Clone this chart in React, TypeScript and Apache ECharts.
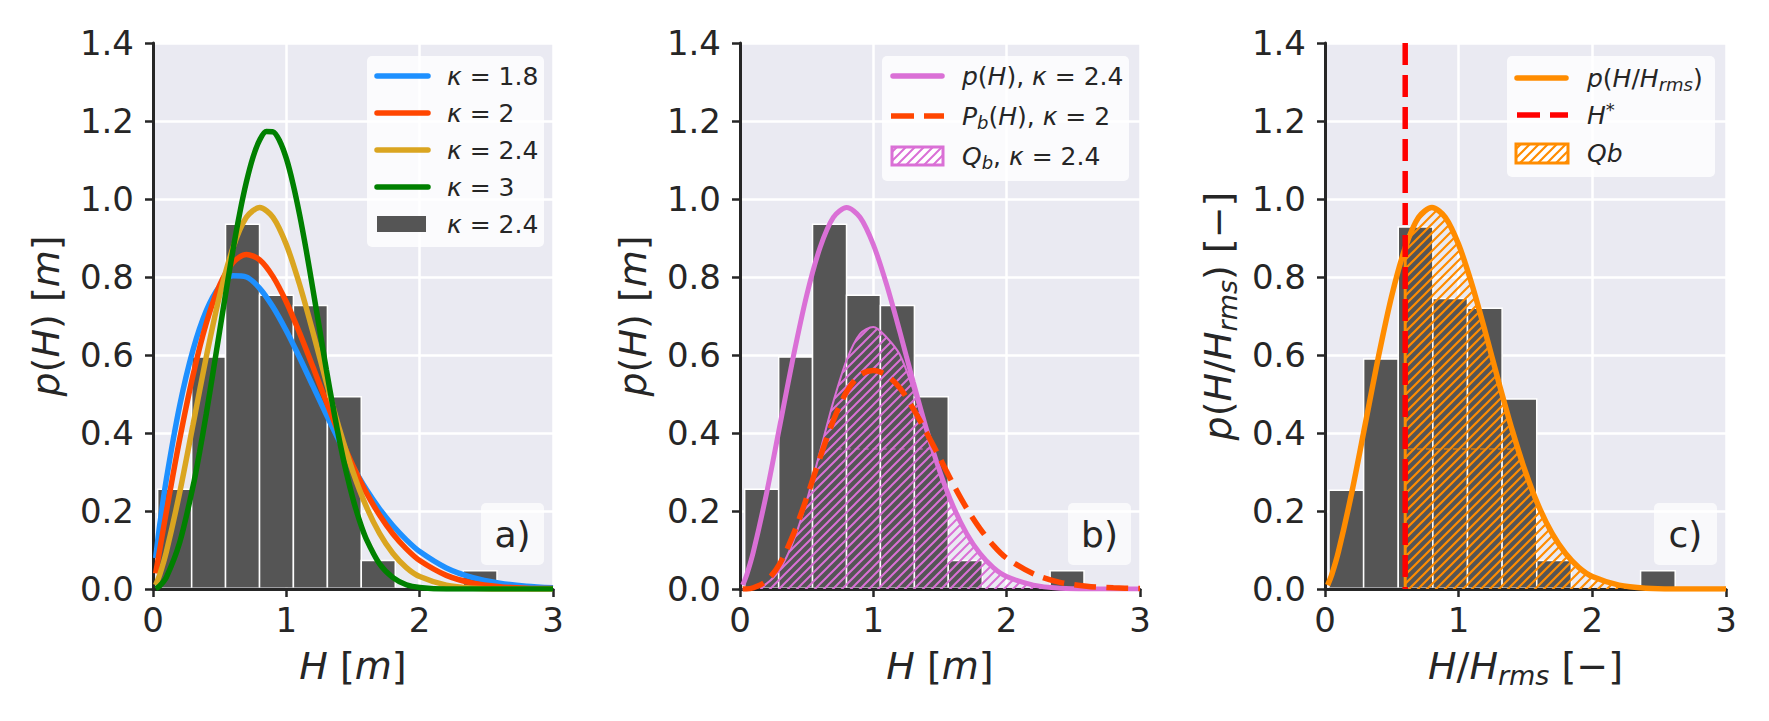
import React, { useEffect, useRef } from "react";
import * as echarts from "echarts";

const FONT = "DejaVu Sans";
const INK = "#262626";

// ---- data ----
const xs = [0.02, 0.05, 0.1, 0.2, 0.3, 0.4, 0.5, 0.6, 0.7, 0.8, 0.9, 1.0, 1.1, 1.2, 1.3, 1.4, 1.5, 1.6, 1.7, 1.8, 1.9, 2.0, 2.2, 2.4, 2.6, 2.8, 3.0];
const pK18 = [0.079, 0.163, 0.281, 0.470, 0.613, 0.714, 0.776, 0.803, 0.800, 0.771, 0.723, 0.662, 0.593, 0.520, 0.447, 0.377, 0.313, 0.255, 0.205, 0.162, 0.126, 0.096, 0.054, 0.029, 0.015, 0.007, 0.003];
const pK20 = [0.040, 0.100, 0.198, 0.384, 0.548, 0.682, 0.779, 0.837, 0.858, 0.844, 0.801, 0.736, 0.656, 0.569, 0.480, 0.394, 0.316, 0.247, 0.189, 0.141, 0.103, 0.073, 0.035, 0.015, 0.006, 0.002, 0.001];
const pK24 = [0.010, 0.036, 0.095, 0.247, 0.421, 0.596, 0.753, 0.875, 0.953, 0.978, 0.953, 0.883, 0.780, 0.658, 0.530, 0.408, 0.300, 0.211, 0.142, 0.091, 0.055, 0.032, 0.010, 0.002, 0.000, 0.000, 0.000];
const xsK30 = [0.02, 0.05, 0.1, 0.2, 0.3, 0.35, 0.4, 0.45, 0.5, 0.55, 0.6, 0.65, 0.7, 0.75, 0.8, 0.85, 0.9, 0.95, 1.0, 1.05, 1.1, 1.15, 1.2, 1.25, 1.3, 1.35, 1.4, 1.45, 1.5, 1.55, 1.6, 1.7, 1.8, 1.9, 2.0, 2.2, 2.4, 2.6, 2.8, 3.0];
const pK30 = [0.001, 0.008, 0.030, 0.119, 0.263, 0.352, 0.450, 0.555, 0.662, 0.768, 0.870, 0.963, 1.043, 1.107, 1.151, 1.173, 1.172, 1.149, 1.104, 1.039, 0.959, 0.867, 0.767, 0.665, 0.563, 0.467, 0.378, 0.299, 0.231, 0.174, 0.128, 0.064, 0.029, 0.011, 0.004, 0.000, 0.000, 0.000, 0.000, 0.000];
const pbK20 = [0.000, 0.000, 0.003, 0.021, 0.066, 0.140, 0.234, 0.337, 0.432, 0.506, 0.549, 0.560, 0.548, 0.515, 0.462, 0.400, 0.335, 0.268, 0.207, 0.155, 0.112, 0.079, 0.039, 0.017, 0.007, 0.003, 0.001];
const qbK24 = [0.000, 0.000, 0.001, 0.014, 0.051, 0.122, 0.226, 0.352, 0.480, 0.587, 0.654, 0.672, 0.645, 0.600, 0.510, 0.402, 0.298, 0.211, 0.142, 0.091, 0.055, 0.032, 0.010, 0.002, 0.000, 0.000, 0.000];
const pRms = [0.010, 0.036, 0.095, 0.247, 0.421, 0.596, 0.753, 0.875, 0.953, 0.978, 0.953, 0.883, 0.780, 0.658, 0.530, 0.408, 0.300, 0.211, 0.142, 0.091, 0.055, 0.032, 0.010, 0.002, 0.000, 0.000, 0.000];
const xsQbC = [0.6, 0.7, 0.8, 0.9, 1.0, 1.1, 1.2, 1.3, 1.4, 1.5, 1.6, 1.7, 1.8, 1.9, 2.0, 2.2, 2.4, 2.6, 2.8, 3.0];
const qbC = [0.875, 0.953, 0.978, 0.953, 0.883, 0.780, 0.658, 0.530, 0.408, 0.300, 0.211, 0.142, 0.091, 0.055, 0.032, 0.010, 0.002, 0.000, 0.000, 0.000];
const hStar = 0.6;
// faint seam of the hatched fill visible in panels b and c
const seamX_B = [0.725, 1.43];
const seamX_C = [0.62, 1.42];
const seamY = [0.359, 0.359];

const binEdgesAB = [0.035, 0.290, 0.544, 0.799, 1.053, 1.308, 1.562, 1.817, 2.071, 2.326, 2.580];
const histAB = [0.256, 0.595, 0.935, 0.753, 0.727, 0.493, 0.073, 0, 0, 0.047];
const binEdgesC = [0.030, 0.289, 0.548, 0.807, 1.066, 1.325, 1.584, 1.843, 2.102, 2.361, 2.620];
const histC = [0.253, 0.590, 0.928, 0.745, 0.720, 0.487, 0.073, 0, 0, 0.047];

const xTickLabels = ["0", "1", "2", "3"];
const yTickLabels = ["0.0", "0.2", "0.4", "0.6", "0.8", "1.0", "1.2", "1.4"];
const xNames = ["{i|H} [{i|m}]", "{i|H} [{i|m}]", "{i|H}/{i|H}{sub|rms} [−]"];
const yNames = ["{i|p}({i|H}) [{i|m}]", "{i|p}({i|H}) [{i|m}]", "{i|p}({i|H}/{i|H}{sub|rms}) [−]"];
const legendA = ["{i|κ} = 1.8", "{i|κ} = 2", "{i|κ} = 2.4", "{i|κ} = 3", "{i|κ} = 2.4"];
const legendB = ["{i|p}({i|H}), {i|κ} = 2.4", "{i|P}{sub|b}({i|H}), {i|κ} = 2", "{i|Q}{sub|b}, {i|κ} = 2.4"];
const legendC = ["{i|p}({i|H}/{i|H}{sub|rms})", "{i|H}{sup|*}", "{i|Qb}"];
const panelLabels = ["a)", "b)", "c)"];

const C18 = "#1E90FF";
const C20 = "#FF4500";
const C24 = "#DAA520";
const C30 = "#008000";
const ORCHID = "#DA70D6";
const DORANGE = "#FF8C00";
const RED = "#FF0000";
const HISTC = "#555555";

const GRIDS = [
  { left: 153, top: 43, width: 400, height: 546 },
  { left: 740, top: 43, width: 400, height: 546 },
  { left: 1325, top: 43, width: 401, height: 546 },
];

function hatch(color: string, lw: number, s: number) {
  const c = document.createElement("canvas");
  c.width = s;
  c.height = s;
  const ctx = c.getContext("2d")!;
  ctx.strokeStyle = color;
  ctx.lineWidth = lw;
  ctx.beginPath();
  ctx.moveTo(0, s);
  ctx.lineTo(s, 0);
  ctx.moveTo(-s / 2, s / 2);
  ctx.lineTo(s / 2, -s / 2);
  ctx.moveTo(s / 2, s * 1.5);
  ctx.lineTo(s * 1.5, s / 2);
  ctx.stroke();
  return { image: c, repeat: "repeat", imageWidth: s, imageHeight: s };
}

const pairs = (x: number[], y: number[]) => x.map((v, i) => [v, y[i]]);

function histSeries(gi: number, edges: number[], heights: number[]) {
  return {
    type: "custom",
    xAxisIndex: gi,
    yAxisIndex: gi,
    silent: true,
    encode: { x: [0, 1], y: 2 },
    data: heights.map((h, i) => [edges[i], edges[i + 1], h]),
    renderItem: (_p: any, api: any) => {
      const h = api.value(2);
      if (!(h > 0)) return null;
      const a = api.coord([api.value(0), h]);
      const b = api.coord([api.value(1), 0]);
      const bottom = b[1] - 1.5;
      return {
        type: "group",
        children: [
          {
            type: "rect",
            shape: { x: a[0], y: a[1], width: b[0] - a[0], height: bottom - a[1] },
            style: { fill: HISTC },
          },
          {
            type: "polyline",
            shape: { points: [[a[0], bottom], [a[0], a[1]], [b[0], a[1]], [b[0], bottom]] },
            style: { fill: "none", stroke: "#ffffff", lineWidth: 1.5 },
          },
        ],
      };
    },
  };
}

function curve(gi: number, x: number[], y: number[], color: string, width: number, extra: any = {}) {
  return {
    type: "line",
    xAxisIndex: gi,
    yAxisIndex: gi,
    data: pairs(x, y),
    showSymbol: false,
    symbol: "none",
    smooth: 0.3,
    silent: true,
    lineStyle: { color, width },
    itemStyle: { color },
    ...extra,
  };
}

function axisNameStyle() {
  return {
    fontSize: 38,
    fontFamily: FONT,
    color: INK,
    lineHeight: 46,
    rich: {
      i: { fontStyle: "italic", fontSize: 38, fontFamily: FONT, color: INK, lineHeight: 46 },
      sub: { fontStyle: "italic", fontSize: 27, fontFamily: FONT, color: INK, lineHeight: 20, verticalAlign: "bottom" },
    },
  };
}

const RL = {
  i: { fontStyle: "italic", fontSize: 25, fontFamily: FONT, fill: INK, lineHeight: 30 },
  sub: { fontStyle: "italic", fontSize: 18, fontFamily: FONT, fill: INK, lineHeight: 13, verticalAlign: "bottom" },
  sup: { fontSize: 18, fontFamily: FONT, fill: INK, lineHeight: 13, verticalAlign: "top" },
};

function legText(x: number, y: number, text: string) {
  return {
    type: "text",
    x,
    y,
    z: 101,
    silent: true,
    style: { text, fontSize: 25, fontFamily: FONT, fill: INK, align: "left", verticalAlign: "middle", lineHeight: 30, rich: RL },
  };
}

function legLine(x1: number, x2: number, y: number, color: string, dash?: number[]) {
  return {
    type: "line",
    z: 101,
    silent: true,
    shape: { x1, y1: y, x2, y2: y },
    style: { stroke: color, lineWidth: 5.5, lineCap: dash ? "butt" : "round", lineDash: dash || null },
  };
}

function box(x: number, y: number, w: number, h: number, alpha: number) {
  return {
    type: "rect",
    z: 100,
    silent: true,
    shape: { x, y, width: w, height: h, r: 5 },
    style: { fill: `rgba(255,255,255,${alpha})` },
  };
}

function buildOption() {
  const hatchB = hatch(ORCHID, 2, 9);
  const hatchC = hatch(DORANGE, 2.2, 9);
  const hatchBLeg = hatch(ORCHID, 2, 9);
  const hatchCLeg = hatch(DORANGE, 2.2, 9);

  const xAxes = GRIDS.map((_g, gi) => ({
    type: "value",
    gridIndex: gi,
    min: 0,
    max: 3,
    interval: 1,
    axisLine: { show: true, onZero: false, lineStyle: { color: INK, width: 3 } },
    axisTick: { show: true, length: 8, lineStyle: { color: INK, width: 2.5 } },
    axisLabel: { fontSize: 34, fontFamily: FONT, color: INK, margin: 14, formatter: (v: number) => xTickLabels[Math.round(v)] },
    splitLine: { show: true, lineStyle: { color: "#ffffff", width: 2.5 } },
    name: xNames[gi],
    nameLocation: "middle",
    nameGap: 54,
    nameTextStyle: axisNameStyle(),
  }));
  const yAxes = GRIDS.map((_g, gi) => ({
    type: "value",
    gridIndex: gi,
    min: 0,
    max: 1.4,
    interval: 0.2,
    axisLine: { show: true, onZero: false, lineStyle: { color: INK, width: 3 } },
    axisTick: { show: true, length: 8, lineStyle: { color: INK, width: 2.5 } },
    axisLabel: { fontSize: 34, fontFamily: FONT, color: INK, margin: 19, formatter: (v: number) => yTickLabels[Math.round(v * 5)] },
    splitLine: { show: true, lineStyle: { color: "#ffffff", width: 2.5 } },
    name: yNames[gi],
    nameLocation: "middle",
    nameGap: 84,
    nameTextStyle: axisNameStyle(),
  }));

  const series: any[] = [
    // panel a
    histSeries(0, binEdgesAB, histAB),
    curve(0, xs, pK18, C18, 5.5),
    curve(0, xs, pK20, C20, 5.5),
    curve(0, xs, pK24, C24, 5.5),
    curve(0, xsK30, pK30, C30, 5.5),
    // panel b
    histSeries(1, binEdgesAB, histAB),
    curve(1, xs, qbK24, ORCHID, 2, { areaStyle: { color: hatchB, opacity: 1 } }),
    curve(1, seamX_B, seamY, ORCHID, 1, { smooth: false, lineStyle: { color: ORCHID, width: 1, type: [5, 4] } }),
    curve(1, xs, pK24, ORCHID, 5),
    curve(1, xs, pbK20, C20, 5.5, { lineStyle: { color: C20, width: 5.5, type: [22, 10] } }),
    // panel c
    histSeries(2, binEdgesC, histC),
    curve(2, xsQbC, qbC, DORANGE, 2, { areaStyle: { color: hatchC, opacity: 1 } }),
    curve(2, seamX_C, seamY, DORANGE, 1, { smooth: false, lineStyle: { color: DORANGE, width: 1, type: [5, 4] } }),
    curve(2, [hStar, hStar], [0, qbC[0]], DORANGE, 3, { smooth: false }),
    curve(2, xs, pRms, DORANGE, 5.5),
    curve(2, [hStar, hStar], [1.4, 0], RED, 5.5, { smooth: false, lineStyle: { color: RED, width: 5.5, type: [22, 10] } }),
  ];

  const graphic: any[] = [];
  // legend a
  graphic.push(box(367, 56, 177, 191, 0.8));
  const rowsA = [76, 113, 150, 187, 224];
  [C18, C20, C24, C30].forEach((c, i) => graphic.push(legLine(377, 428, rowsA[i], c)));
  graphic.push({ type: "rect", z: 101, silent: true, shape: { x: 377, y: rowsA[4] - 8, width: 49, height: 16 }, style: { fill: HISTC } });
  legendA.forEach((t, i) => graphic.push(legText(447, rowsA[i], t)));

  // legend b
  graphic.push(box(882, 56, 247, 125, 0.8));
  const rowsB = [76, 116, 156];
  graphic.push(legLine(893, 942, rowsB[0], ORCHID));
  graphic.push(legLine(891, 944, rowsB[1], C20, [23, 10]));
  graphic.push({ type: "rect", z: 101, silent: true, shape: { x: 892, y: rowsB[2] - 9, width: 51, height: 18 }, style: { fill: "#ffffff" } });
  graphic.push({ type: "rect", z: 102, silent: true, shape: { x: 892, y: rowsB[2] - 9, width: 51, height: 18 }, style: { fill: hatchBLeg, stroke: ORCHID, lineWidth: 3 } });
  legendB.forEach((t, i) => graphic.push(legText(962, rowsB[i], t)));

  // legend c
  graphic.push(box(1507, 56, 208, 121, 0.8));
  const rowsC = [78, 115, 153];
  graphic.push(legLine(1517, 1566, rowsC[0], DORANGE));
  graphic.push(legLine(1517, 1568, rowsC[1], RED, [23, 10]));
  graphic.push({ type: "rect", z: 101, silent: true, shape: { x: 1516, y: rowsC[2] - 9, width: 52, height: 19 }, style: { fill: "#ffffff" } });
  graphic.push({ type: "rect", z: 102, silent: true, shape: { x: 1516, y: rowsC[2] - 9, width: 52, height: 19 }, style: { fill: hatchCLeg, stroke: DORANGE, lineWidth: 3 } });
  legendC.forEach((t, i) => graphic.push(legText(1587, rowsC[i], t)));

  // panel labels
  GRIDS.forEach((g, i) => {
    const bx = g.left + g.width - 9 - 63;
    graphic.push(box(bx, 503, 63, 62, 0.7));
    graphic.push({
      type: "text",
      x: bx + 31.5,
      y: 534,
      z: 101,
      silent: true,
      style: { text: panelLabels[i], fontSize: 36, fontFamily: FONT, fill: INK, align: "center", verticalAlign: "middle" },
    });
  });

  return {
    animation: false,
    backgroundColor: "#ffffff",
    textStyle: { fontFamily: FONT },
    grid: GRIDS.map((g) => ({ ...g, show: true, backgroundColor: "#EAEAF2", borderWidth: 0, containLabel: false })),
    xAxis: xAxes,
    yAxis: yAxes,
    series,
    graphic,
  };
}

export default function App() {
  const ref = useRef<HTMLDivElement>(null);
  useEffect(() => {
    document.body.style.margin = "0";
    const chart = echarts.init(ref.current!, null, { renderer: "svg", width: 1769, height: 721 });
    chart.setOption(buildOption() as any);
    return () => chart.dispose();
  }, []);
  return <div ref={ref} style={{ width: 1769, height: 721 }} />;
}
